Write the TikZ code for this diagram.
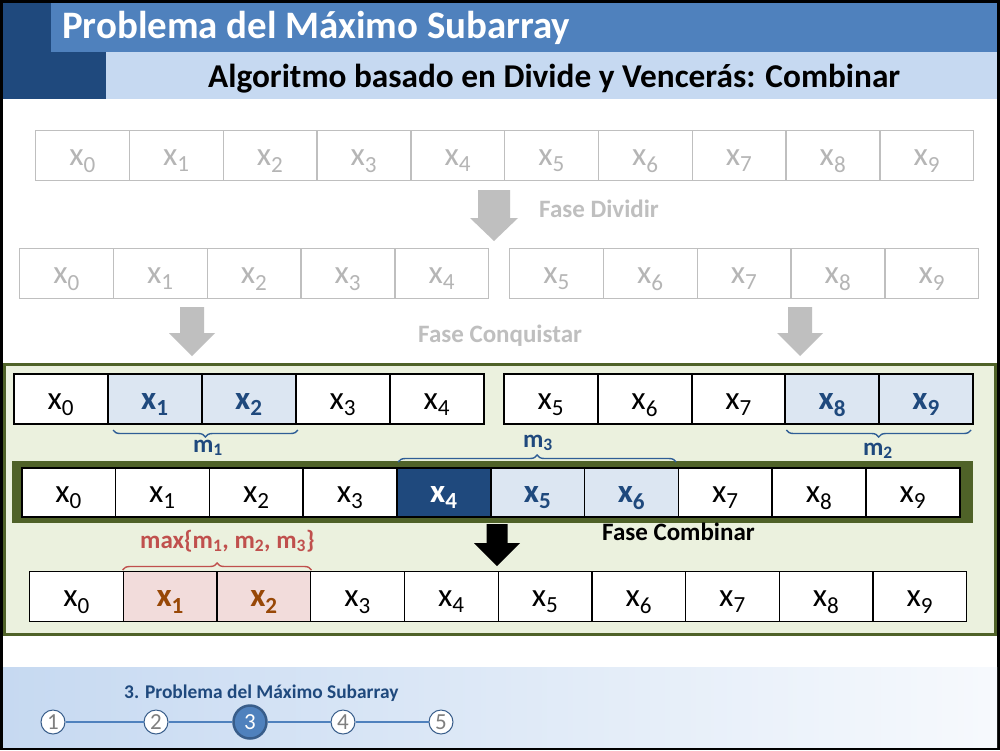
\documentclass[tikz,border=0pt]{standalone}
\usepackage{fontspec}
\setmainfont{Carlito}
\usetikzlibrary{decorations.pathreplacing}

\definecolor{hdrdark}{HTML}{1F497D}
\definecolor{hdrmid}{HTML}{4F81BD}
\definecolor{hdrlight}{HTML}{C6D9F1}
\definecolor{cellblue}{HTML}{DCE6F2}
\definecolor{framegreen}{HTML}{4F6228}
\definecolor{panelfill}{HTML}{EBF1DE}
\definecolor{maxred}{HTML}{C0504D}
\definecolor{cellpink}{HTML}{F2DCDB}
\definecolor{maxbrown}{HTML}{984807}
\definecolor{fadeline}{HTML}{BFBFBF}
\definecolor{fadetext}{HTML}{B5B5B5}
\definecolor{bracecol}{HTML}{2F5E96}
\definecolor{ringcol}{HTML}{385D8A}
\definecolor{numgray}{HTML}{7F7F7F}

\newcommand\fsz[1]{\fontsize{#1}{#1}\selectfont}
% block arrow pointing down: colour, centre x, top y, head start y, tip y, shaft half width, head half width
\newcommand\downblock[7]{\fill[#1] (#2-#6,#3) -- (#2+#6,#3) -- (#2+#6,#4) -- (#2+#7,#4) -- (#2,#5) -- (#2-#7,#4) -- (#2-#6,#4) -- cycle;}

\tikzset{
  cell/.style={draw, anchor=north west, minimum width=93.8pt, minimum height=50pt,
    inner sep=0pt, text height=22pt, text depth=2pt, font=\fsz{33}},
  fadecell/.style={cell, draw=fadeline, line width=1.3pt, text=fadetext},
  boxcell/.style={cell, line width=2pt, fill=white},
  combcell/.style={cell, line width=1.5pt, fill=white, minimum height=49pt},
  rescell/.style={cell, line width=1.3pt, fill=white},
  plain/.style={},
  hlblue/.style={fill=cellblue, text=hdrdark, font=\fsz{33}\bfseries},
  hldark/.style={fill=hdrdark, text=white, font=\fsz{33}\bfseries},
  hlpink/.style={fill=cellpink, text=maxbrown, font=\fsz{33}\bfseries},
  bracemark/.style={decorate, decoration={brace, amplitude=7pt}, line width=1.4pt},
  phase/.style={anchor=base west, inner sep=0pt, font=\fsz{25}\bfseries},
  mlabel/.style={anchor=base, inner sep=0pt, font=\fsz{25}\bfseries, text=hdrdark},
  stepdot/.style={circle, draw=ringcol, line width=1pt, fill=white, minimum size=24pt,
    inner sep=0pt, text=numgray, font=\fsz{23}},
  stepnow/.style={circle, draw=ringcol, line width=2.5pt, fill=hdrmid, minimum size=33pt,
    inner sep=0pt, text=white, font=\fsz{23}},
}

\begin{document}
\begin{tikzpicture}[x=1pt, y=-1pt]
\useasboundingbox (0,0) rectangle (1000,750);

% frame and page
\fill[black] (0,0) rectangle (1000,750);
\fill[white] (3,3) rectangle (997,747);

% header bands
\fill[hdrdark] (3,3) rectangle (106,99);
\fill[hdrmid] (51,3) rectangle (997,52);
\fill[hdrlight] (106,52) rectangle (997,99);
\node[anchor=base west, inner sep=0pt, text=white, font=\fsz{38.9}\bfseries] (title) at (62,38) {Problema del Máximo Subarray};
\node[anchor=base west, inner sep=0pt, text=black, font=\fsz{33.3}\bfseries] (subtitle) at (208,87) {Algoritmo basado en Divide y Vencerás: Combinar};

% original array
\foreach \i in {0,...,9}
  \node[fadecell] (a\i) at (35+\i*93.8,130) {x\textsubscript{\i}};

\downblock{fadeline}{494}{190}{218}{241}{16}{24}
\node[phase, text=fadeline] (divide) at (539,217) {Fase Dividir};

% divided halves
\foreach \i in {0,...,4}
  \node[fadecell] (b\i) at (19+\i*93.8,248) {x\textsubscript{\i}};
\foreach \i in {5,...,9}
  \node[fadecell] (b\i) at (509+\i*93.8-5*93.8,248) {x\textsubscript{\i}};

\downblock{fadeline}{192}{307}{333}{356}{12}{23}
\downblock{fadeline}{800}{307}{333}{356}{12}{23}
\node[phase, text=fadeline] (conquer) at (418,342) {Fase Conquistar};

% combine panel
\draw[framegreen, line width=3pt, fill=panelfill] (4.5,364.5) rectangle (995.5,634.5);

% solved halves
\foreach \i/\s in {0/plain,1/hlblue,2/hlblue,3/plain,4/plain}
  \node[boxcell,\s] (c\i) at (13+\i*94,373) {x\textsubscript{\i}};
\foreach \i/\s in {5/plain,6/plain,7/plain,8/hlblue,9/hlblue}
  \node[boxcell,\s] (c\i) at (503+\i*93.8-5*93.8,373) {x\textsubscript{\i}};

\draw[bracemark, bracecol] ([xshift=1pt,yshift=-5pt]c2.south east) -- ([xshift=6pt,yshift=-5pt]c1.south west);
\node[mlabel] (m1) at (208,452) {m\textsubscript{1}};
\draw[bracemark, bracecol] ([xshift=-3pt,yshift=-5pt]c9.south east) -- ([xshift=2pt,yshift=-5pt]c8.south west);
\node[mlabel] (m2) at (878,455) {m\textsubscript{2}};

% crossing subarray
\fill[framegreen] (12,461) rectangle (973,523);
\foreach \i/\s in {0/plain,1/plain,2/plain,3/plain,4/hldark,5/hlblue,6/hlblue,7/plain,8/plain,9/plain}
  \node[combcell,\s] (d\i) at (21+\i*93.8,467) {x\textsubscript{\i}};
\draw[bracemark, bracecol] ([xshift=2pt,yshift=5pt]d4.north west) -- ([xshift=-3pt,yshift=5pt]d6.north east);
\node[mlabel] (m3) at (538,447) {m\textsubscript{3}};

\downblock{black}{497}{524}{543}{566}{10.5}{23}
\node[phase, text=black] (combine) at (602,540) {Fase Combinar};

% result
\node[anchor=base west, inner sep=0pt, text=maxred, font=\fsz{25}\bfseries] (maxlbl) at (140,548) {max\{m\textsubscript{1}, m\textsubscript{2}, m\textsubscript{3}\}};
\foreach \i/\s in {0/plain,1/hlpink,2/hlpink,3/plain,4/plain,5/plain,6/plain,7/plain,8/plain,9/plain}
  \node[rescell,\s] (e\i) at (29+\i*93.7,571) {x\textsubscript{\i}};
\draw[bracemark, maxred] ([xshift=0pt,yshift=1pt]e1.north west) -- ([xshift=0pt,yshift=1pt]e2.north east);

% footer
\shade[left color=hdrlight, right color=hdrlight!15] (3,667) rectangle (997,747);
\node[anchor=base west, inner sep=0pt, text=hdrdark, font=\fsz{19.4}\bfseries] (section) at (124,698) {3. Problema del Máximo Subarray};
\node[stepdot] (s1) at (53,722) {1};
\node[stepdot] (s2) at (156,722) {2};
\node[stepnow] (s3) at (250,722) {3};
\node[stepdot] (s4) at (343,722) {4};
\node[stepdot] (s5) at (441,722) {5};
\foreach \p/\q in {s1/s2,s2/s3,s3/s4,s4/s5}
  \draw[hdrmid, line width=1.2pt] (\p) -- (\q);
\end{tikzpicture}
\end{document}
